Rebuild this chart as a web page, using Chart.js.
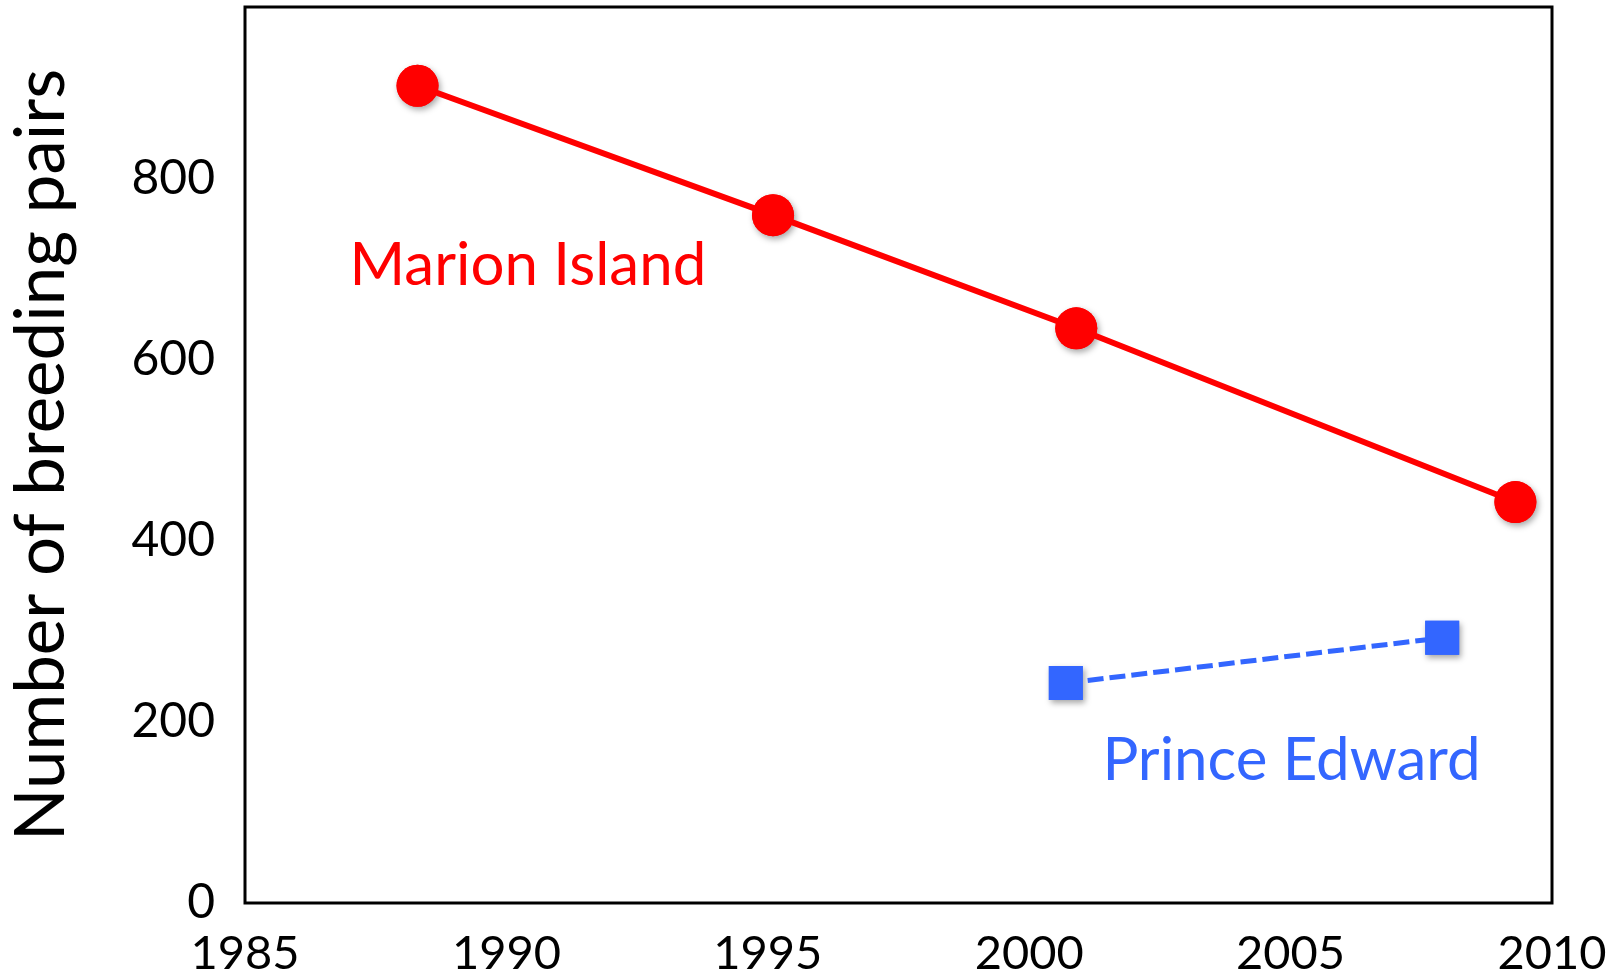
<!DOCTYPE html>
<html>
<head>
<meta charset="utf-8">
<script src="https://cdn.jsdelivr.net/npm/chart.js@4.4.1/dist/chart.umd.min.js"></script>
<style>
  html, body { margin: 0; padding: 0; background: #fff; }
  #wrap { width: 1623px; height: 975px; }
</style>
</head>
<body>
<div id="wrap"><canvas id="chart"></canvas></div>
<script>
// years (decimal, as plotted) and breeding pairs
var marionYears = [1988.3, 1995.1, 2000.9, 2009.3];
var marionPairs = [903, 760, 635, 443];
var princeYears = [2000.7, 2007.9];
var princePairs = [243, 293];

var xTicks = [1985, 1990, 1995, 2000, 2005, 2010];
var yTicks = [0, 200, 400, 600, 800];

var seriesNames = ['Marion Island', 'Prince Edward'];
var nameAt = [[1987.0, 683], [2001.4, 136]];

var RED = '#ff0000';
var BLUE = '#3366ff';
var FONT = 'Lato, "Open Sans", sans-serif';

function pts(xs, ys) {
    return xs.map(function (x, i) { return { x: x, y: ys[i] }; });
}

// soft drop shadow under the markers, drawn before each dataset
var shadowPlugin = {
    id: 'markerShadow',
    beforeDatasetDraw: function (chart, args) {
        var ctx = chart.ctx;
        var ds = chart.data.datasets[args.index];
        ctx.save();
        ctx.shadowColor = 'rgba(0,0,0,0.35)';
        ctx.shadowBlur = 6;
        ctx.shadowOffsetX = 2;
        ctx.shadowOffsetY = 3;
        ctx.fillStyle = ds.backgroundColor;
        args.meta.data.forEach(function (p) {
            var r = ds.pointRadius;
            ctx.beginPath();
            if (ds.pointStyle === 'rect') {
                var h = r * Math.SQRT1_2;
                ctx.rect(p.x - h, p.y - h, 2 * h, 2 * h);
            } else {
                ctx.arc(p.x, p.y, r, 0, Math.PI * 2);
            }
            ctx.fill();
        });
        ctx.restore();
    }
};

// frame round the plot plus the series names
var framePlugin = {
    id: 'frame',
    afterDraw: function (chart) {
        var a = chart.chartArea, ctx = chart.ctx;
        ctx.save();
        ctx.strokeStyle = '#000';
        ctx.lineWidth = 3;
        ctx.strokeRect(a.left, a.top, a.right - a.left, a.bottom - a.top);

        ctx.font = '60px ' + FONT;
        ctx.textBaseline = 'alphabetic';
        ctx.textAlign = 'left';
        var colors = [RED, BLUE];
        for (var i = 0; i < seriesNames.length; i++) {
            ctx.fillStyle = colors[i];
            ctx.fillText(seriesNames[i],
                chart.scales.x.getPixelForValue(nameAt[i][0]),
                chart.scales.y.getPixelForValue(nameAt[i][1]));
        }
        ctx.restore();
    }
};

var ctx = document.getElementById('chart').getContext('2d');
var chart = new Chart(ctx, {
    type: 'scatter',
    data: {
        datasets: [{
            label: seriesNames[0],
            data: pts(marionYears, marionPairs),
            showLine: true,
            borderColor: RED,
            backgroundColor: RED,
            borderWidth: 6,
            pointStyle: 'circle',
            pointRadius: 21,
            pointBorderWidth: 0,
            pointHoverRadius: 21
        }, {
            label: seriesNames[1],
            data: pts(princeYears, princePairs),
            showLine: true,
            borderColor: BLUE,
            backgroundColor: BLUE,
            borderWidth: 5,
            borderDash: [16, 6],
            pointStyle: 'rect',
            pointRadius: 24,
            pointBorderWidth: 0,
            pointHoverRadius: 24
        }]
    },
    options: {
        responsive: true,
        maintainAspectRatio: false,
        animation: false,
        layout: { autoPadding: false, padding: { top: 7, right: 71, left: 0, bottom: 0 } },
        plugins: {
            legend: { display: false },
            tooltip: { enabled: false }
        },
        scales: {
            x: {
                type: 'linear',
                min: xTicks[0],
                max: xTicks[xTicks.length - 1],
                grid: { display: false, drawTicks: false },
                border: { display: false },
                afterBuildTicks: function (s) {
                    s.ticks = xTicks.map(function (v) { return { value: v }; });
                },
                afterFit: function (s) {
                    s.height = 72;
                    s.paddingLeft = 0;
                    s.paddingRight = 0;
                },
                ticks: {
                    color: '#000',
                    padding: 23,
                    maxRotation: 0,
                    font: { family: FONT, size: 47 },
                    callback: function (v) { return String(v); }
                }
            },
            y: {
                type: 'linear',
                min: 0,
                max: 990,
                grid: { display: false, drawTicks: false },
                border: { display: false },
                afterBuildTicks: function (s) {
                    s.ticks = yTicks.map(function (v) { return { value: v }; });
                },
                afterFit: function (s) {
                    s.width = 245;
                    s.paddingTop = 0;
                    s.paddingBottom = 0;
                },
                title: {
                    display: true,
                    text: 'Number of breeding pairs',
                    color: '#000',
                    font: { family: FONT, size: 69 },
                    padding: { top: 0, bottom: 20 }
                },
                ticks: {
                    color: '#000',
                    padding: 30,
                    font: { family: FONT, size: 48 },
                    callback: function (v) { return String(v); }
                }
            }
        }
    },
    plugins: [shadowPlugin, framePlugin]
});
</script>
</body>
</html>
